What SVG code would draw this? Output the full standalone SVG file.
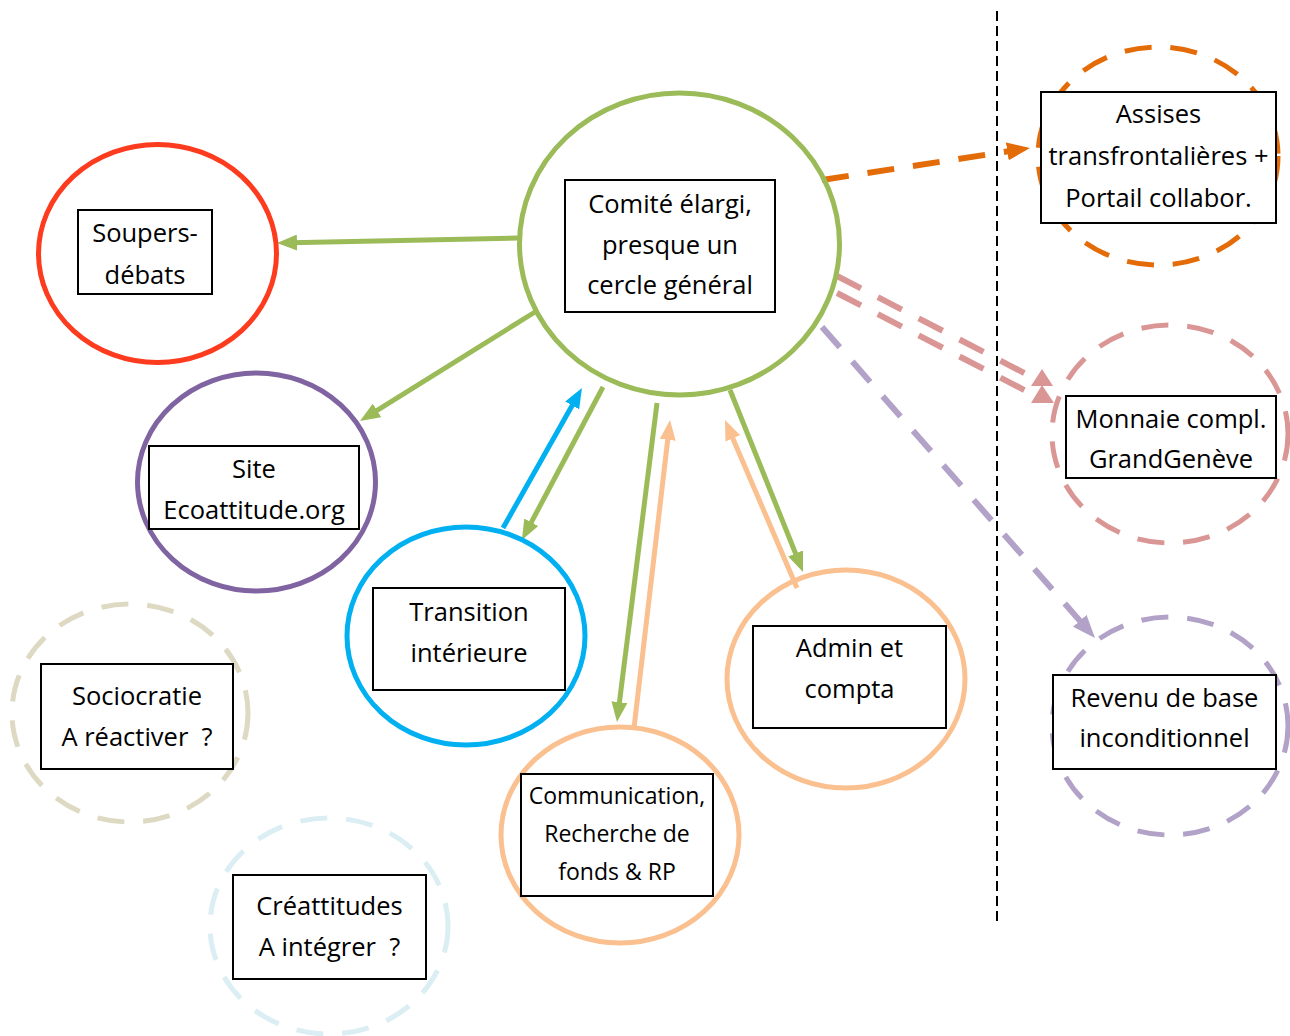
<svg xmlns="http://www.w3.org/2000/svg" width="1290" height="1036" viewBox="0 0 1290 1036">
<style>
  .c { fill: none; stroke-width: 5; }
  .d { stroke-dasharray: 27 19; }
  .box { fill: #fff; stroke: #000; stroke-width: 2; }
  .t { font-family: "Open Sans", "Noto Sans", sans-serif; font-size: 25.5px; fill: #000; text-anchor: middle; }
  .ts { font-size: 23px; }
  .ln { fill: none; stroke-width: 5; }
  .dl { fill: none; stroke-width: 6; stroke-dasharray: 27 19; }
</style>
<defs>
  <marker id="ag" markerUnits="userSpaceOnUse" markerWidth="20" markerHeight="16" refX="6" refY="8" orient="auto"><path d="M0,0 L20,8 L0,16 z" fill="#9BBB59"/></marker>
  <marker id="ab" markerUnits="userSpaceOnUse" markerWidth="20" markerHeight="16" refX="6" refY="8" orient="auto"><path d="M0,0 L20,8 L0,16 z" fill="#00B0F0"/></marker>
  <marker id="ao" markerUnits="userSpaceOnUse" markerWidth="20" markerHeight="16" refX="6" refY="8" orient="auto"><path d="M0,0 L20,8 L0,16 z" fill="#FAC08F"/></marker>
  <marker id="ad" markerUnits="userSpaceOnUse" markerWidth="23" markerHeight="18" refX="7" refY="9" orient="auto"><path d="M0,0 L23,9 L0,18 z" fill="#E36C09"/></marker>
  <marker id="ap" markerUnits="userSpaceOnUse" markerWidth="23" markerHeight="18" refX="7" refY="9" orient="auto"><path d="M0,0 L23,9 L0,18 z" fill="#B2A2C7"/></marker>
</defs>
<rect width="1290" height="1036" fill="#fff"/>

<g id="separator">
  <line x1="997" y1="11" x2="997" y2="922" stroke="#000" stroke-width="2" stroke-dasharray="10 5"/>
</g>

<g id="connectors">
  <line class="ln" stroke="#9BBB59" x1="519" y1="238" x2="291" y2="242.7" marker-end="url(#ag)"/>
  <line class="ln" stroke="#9BBB59" x1="535" y1="312" x2="371.9" y2="413.6" marker-end="url(#ag)"/>
  <line class="ln" stroke="#00B0F0" x1="503" y1="528" x2="575.1" y2="400.2" marker-end="url(#ab)"/>
  <line class="ln" stroke="#9BBB59" x1="603" y1="387" x2="528.5" y2="527.6" marker-end="url(#ag)"/>
  <line class="ln" stroke="#9BBB59" x1="657" y1="403" x2="618.7" y2="708.1" marker-end="url(#ag)"/>
  <line class="ln" stroke="#FAC08F" x1="634" y1="728" x2="668.4" y2="433.9" marker-end="url(#ao)"/>
  <line class="ln" stroke="#9BBB59" x1="730" y1="390" x2="797.8" y2="559" marker-end="url(#ag)"/>
  <line class="ln" stroke="#FAC08F" x1="797" y1="588" x2="730.5" y2="432.9" marker-end="url(#ao)"/>
  <line class="dl" stroke="#E36C09" x1="822" y1="180" x2="1014.2" y2="150.4" marker-end="url(#ad)"/>
  <line class="dl" stroke="#B2A2C7" x1="822" y1="327" x2="1084.4" y2="626" marker-end="url(#ap)"/>
  <line class="dl" stroke="#D99694" x1="837" y1="276" x2="1030" y2="376"/>
  <line class="dl" stroke="#D99694" x1="837" y1="293" x2="1030" y2="393"/>
  <polygon points="1042,369 1053,386 1031,386" fill="#D99694"/>
  <polygon points="1042,385 1054,403 1031,403" fill="#D99694"/>
</g>

<g id="comite">
  <ellipse class="c" stroke="#9BBB59" cx="679.5" cy="244" rx="160" ry="151"/>
  <rect class="box" x="565" y="180" width="210" height="132"/>
  <text class="t" x="670" y="213">Comité élargi,</text>
  <text class="t" x="670" y="254">presque un</text>
  <text class="t" x="670" y="294">cercle général</text>
</g>

<g id="soupers">
  <ellipse class="c" stroke="#FD3B1E" cx="157.5" cy="253.5" rx="119" ry="109"/>
  <rect class="box" x="78" y="210" width="134" height="84"/>
  <text class="t" x="145" y="242">Soupers-</text>
  <text class="t" x="145" y="284">débats</text>
</g>

<g id="site">
  <ellipse class="c" stroke="#8064A2" cx="256.5" cy="482" rx="119" ry="109"/>
  <rect class="box" x="149" y="446" width="210" height="83"/>
  <text class="t" x="254" y="478">Site</text>
  <text class="t" x="254" y="519">Ecoattitude.org</text>
</g>

<g id="transition">
  <ellipse class="c" stroke="#00B0F0" cx="466" cy="636" rx="119" ry="109"/>
  <rect class="box" x="373" y="588" width="192" height="102"/>
  <text class="t" x="469" y="621">Transition</text>
  <text class="t" x="469" y="662">intérieure</text>
</g>

<g id="communication">
  <ellipse class="c" stroke="#FAC08F" cx="620" cy="835" rx="119" ry="108"/>
  <rect class="box" x="521" y="774" width="192" height="122"/>
  <text class="t ts" x="617" y="804">Communication,</text>
  <text class="t ts" x="617" y="842">Recherche de</text>
  <text class="t ts" x="617" y="880">fonds &amp; RP</text>
</g>

<g id="admin">
  <ellipse class="c" stroke="#FAC08F" cx="846" cy="679" rx="119" ry="109"/>
  <rect class="box" x="753" y="626" width="193" height="102"/>
  <text class="t" x="849.5" y="657">Admin et</text>
  <text class="t" x="849.5" y="698">compta</text>
</g>

<g id="sociocratie">
  <ellipse class="c d" stroke="#DDD9C3" cx="130" cy="713" rx="118" ry="109"/>
  <rect class="box" x="41" y="664" width="192" height="105"/>
  <text class="t" x="137" y="705">Sociocratie</text>
  <text class="t" x="137" y="746" xml:space="preserve">A réactiver  ?</text>
</g>

<g id="creattitudes">
  <ellipse class="c d" stroke="#DAEEF3" cx="329" cy="926" rx="119" ry="108"/>
  <rect class="box" x="233" y="875" width="193" height="104"/>
  <text class="t" x="329.5" y="915">Créattitudes</text>
  <text class="t" x="329.5" y="956" xml:space="preserve">A intégrer  ?</text>
</g>

<g id="assises">
  <ellipse class="c d" stroke="#E36C09" cx="1158" cy="156" rx="120" ry="109"/>
  <rect class="box" x="1041" y="92" width="235" height="131"/>
  <text class="t" x="1158.5" y="123">Assises</text>
  <text class="t" x="1158.5" y="165">transfrontalières +</text>
  <text class="t" x="1158.5" y="207">Portail collabor.</text>
</g>

<g id="monnaie">
  <ellipse class="c d" stroke="#D99694" cx="1170" cy="434" rx="118" ry="109"/>
  <rect class="box" x="1066" y="396" width="210" height="82"/>
  <text class="t" x="1171" y="428">Monnaie compl.</text>
  <text class="t" x="1171" y="468">GrandGenève</text>
</g>

<g id="revenu">
  <ellipse class="c d" stroke="#B2A2C7" cx="1170" cy="726" rx="118" ry="109"/>
  <rect class="box" x="1053" y="675" width="223" height="94"/>
  <text class="t" x="1164.5" y="707">Revenu de base</text>
  <text class="t" x="1164.5" y="747">inconditionnel</text>
</g>
</svg>
